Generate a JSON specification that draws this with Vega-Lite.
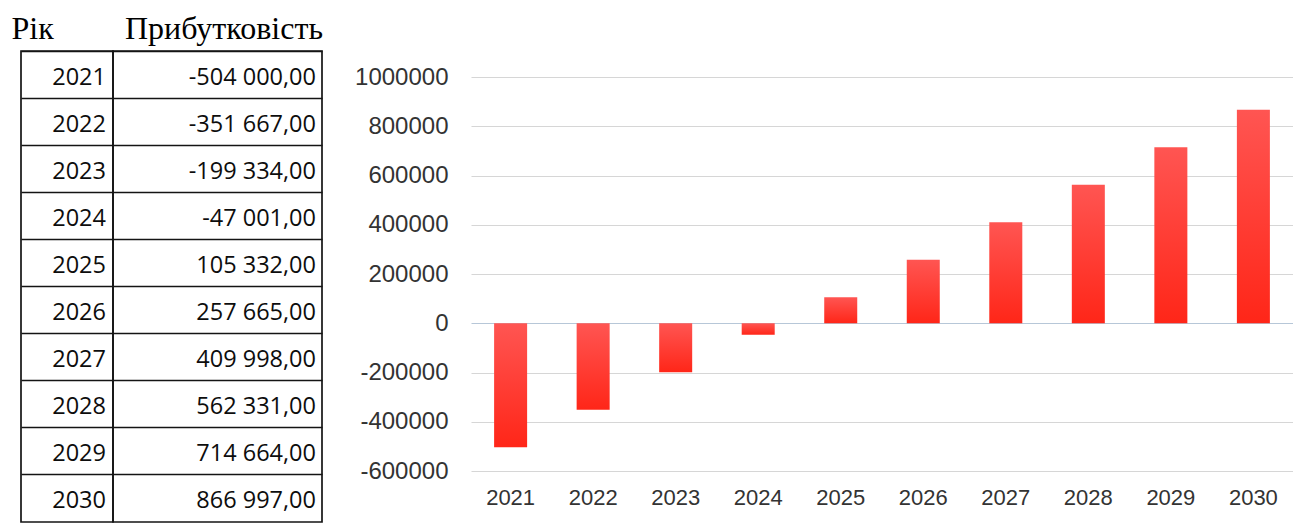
{
  "$schema": "https://vega.github.io/schema/vega-lite/v6.json",
  "padding": {"left": 10, "top": 12, "right": 0, "bottom": 0},
  "background": "white",
  "datasets": {
    "profit": [
      {"year": 2021, "profit": -504000},
      {"year": 2022, "profit": -351667},
      {"year": 2023, "profit": -199334},
      {"year": 2024, "profit": -47001},
      {"year": 2025, "profit": 105332},
      {"year": 2026, "profit": 257665},
      {"year": 2027, "profit": 409998},
      {"year": 2028, "profit": 562331},
      {"year": 2029, "profit": 714664},
      {"year": 2030, "profit": 866997}
    ]
  },
  "data": {"name": "profit"},
  "spacing": 30,
  "hconcat": [
    {
      "bounds": "flush",
      "spacing": 0,
      "hconcat": [
        {
          "width": 92,
          "height": 471,
          "title": {"text": "Рік", "anchor": "start", "dx": -9.5, "offset": -20, "baseline": "alphabetic", "font": "Liberation Serif", "fontSize": 32, "fontWeight": "normal", "color": "#000000"},
          "view": {"stroke": "#141414", "strokeWidth": 1.7},
          "mark": {"type": "text", "align": "right", "baseline": "middle", "x": "width", "dx": -7, "dy": 3, "font": "Open Sans", "fontSize": 23.5, "color": "#0d0d0d"},
          "encoding": {
            "y": {"field": "year", "type": "ordinal", "scale": {"type": "band", "paddingInner": 0, "paddingOuter": 0},
              "axis": {"title": null, "labels": false, "ticks": false, "domain": false, "grid": true, "gridColor": "#141414", "gridWidth": 1.7, "gridOpacity": 1, "bandPosition": 0}},
            "text": {"field": "year", "type": "ordinal"}
          }
        },
        {
          "width": 209,
          "height": 471,
          "title": {"text": "Прибутковість", "anchor": "start", "dx": 12, "offset": -20, "baseline": "alphabetic", "font": "Liberation Serif", "fontSize": 32, "fontWeight": "normal", "color": "#000000"},
          "view": {"stroke": "#141414", "strokeWidth": 1.7},
          "mark": {"type": "text", "align": "right", "baseline": "middle", "x": "width", "dx": -6, "dy": 3, "font": "Open Sans", "fontSize": 23.5, "color": "#0d0d0d"},
          "encoding": {
            "y": {"field": "year", "type": "ordinal", "scale": {"type": "band", "paddingInner": 0, "paddingOuter": 0},
              "axis": {"title": null, "labels": false, "ticks": false, "domain": false, "grid": true, "gridColor": "#141414", "gridWidth": 1.7, "gridOpacity": 1, "bandPosition": 0}},
            "text": {"field": "profit", "type": "quantitative", "format": ",.2f"}
          }
        }
      ]
    },
    {
      "width": 822,
      "height": 420,
      "title": {"text": " ", "anchor": "start", "offset": -20, "baseline": "alphabetic", "font": "Liberation Serif", "fontSize": 32, "fontWeight": "normal", "color": "#000000"},
      "view": {"stroke": null},
      "mark": {
        "type": "bar",
        "color": {
          "gradient": "linear", "x1": 0, "y1": 0, "x2": 0, "y2": 1,
          "stops": [{"offset": 0, "color": "#ff5552"}, {"offset": 1, "color": "#ff2618"}]
        }
      },
      "encoding": {
        "x": {"field": "year", "type": "ordinal", "scale": {"paddingInner": 0.6, "paddingOuter": 0.28},
          "axis": {"title": null, "labelAngle": 0, "labelFont": "Liberation Sans", "labelFontSize": 22, "labelColor": "#333333", "labelPadding": 16, "ticks": false, "domain": false, "grid": false}},
        "y": {"field": "profit", "type": "quantitative", "scale": {"domain": [-600000, 1105600], "nice": false},
          "axis": {"title": null, "values": [-600000, -400000, -200000, 0, 200000, 400000, 600000, 800000, 1000000], "format": "d",
            "labelFont": "Liberation Sans", "labelFontSize": 24, "labelColor": "#333333", "labelPadding": 23, "ticks": false, "domain": false,
            "gridColor": {"condition": {"test": "datum.value === 0", "value": "#b7c7d8"}, "value": "#d6d6d6"}, "gridWidth": 1.2}}
      }
    }
  ],
  "config": {
    "locale": {"number": {"decimal": ",", "thousands": " ", "grouping": [3], "currency": ["", ""], "minus": "-"}}
  }
}
